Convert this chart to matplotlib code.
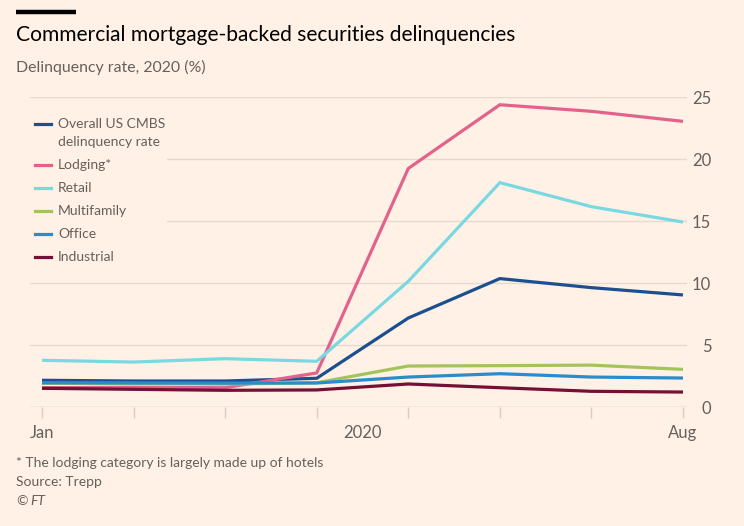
"""FT-style line chart: CMBS delinquency rates by property type, Jan-Aug 2020."""
import matplotlib

matplotlib.use("Agg")
import matplotlib.pyplot as plt
from matplotlib.lines import Line2D
from matplotlib.patches import Rectangle

W, H = 744, 526
BG = "#fff1e5"
GRID = "#e6d9ce"
TXT = "#66605c"

months = ["Jan", "Feb", "Mar", "Apr", "May", "Jun", "Jul", "Aug"]

overall = [2.18, 2.12, 2.12, 2.34, 7.20, 10.38, 9.65, 9.06]
lodging = [1.58, 1.62, 1.58, 2.77, 19.26, 24.40, 23.87, 23.06]
retail = [3.79, 3.65, 3.92, 3.71, 10.16, 18.12, 16.18, 14.94]
multifamily = [1.93, 1.92, 1.87, 1.98, 3.33, 3.36, 3.40, 3.06]
office = [1.98, 1.96, 1.95, 1.96, 2.44, 2.71, 2.44, 2.36]
industrial = [1.53, 1.45, 1.37, 1.40, 1.88, 1.58, 1.29, 1.23]

series_names = ["Overall US CMBS\ndelinquency rate", "Lodging*", "Retail",
                "Multifamily", "Office", "Industrial"]
series_values = [overall, lodging, retail, multifamily, office, industrial]
series_colors = ["#1c4f8f", "#e3628c", "#79d8e1", "#a3c45c", "#2a8ccc", "#760f35"]

plt.rcParams["font.family"] = ["Lato", "DejaVu Sans"]


def fx(px):
    return px / W


def fy(py):
    return 1 - py / H


fig = plt.figure(figsize=(W / 100, H / 100), dpi=100, facecolor=BG)
ax = fig.add_axes([fx(30), fy(407.3), fx(687) - fx(30), fy(97.3) - fy(407.3)])
ax.set_facecolor(BG)

x = list(range(len(months)))
# draw back-to-front so the low lines sit like the original
order = [5, 4, 3, 1, 2, 0]
for i in order:
    ax.plot(x, series_values[i], color=series_colors[i], lw=2.3,
            solid_capstyle="butt", solid_joinstyle="miter", zorder=3 + i * 0.1)

ax.set_xlim(-12 / 91.57, 7 + 4 / 91.57)
ax.set_ylim(0, 25)
ax.set_yticks([0, 5, 10, 15, 20, 25])
ax.yaxis.tick_right()
ax.tick_params(axis="y", length=0, pad=17.5, labelsize=12, labelcolor=TXT)
for lab in ax.get_yticklabels():
    lab.set_horizontalalignment("right")
ax.grid(axis="y", color=GRID, lw=1, zorder=1)

ax.set_xticks(x)
ax.set_xticklabels([months[0]] + [""] * 6 + [months[-1]])
ax.set_xticks([3.5], ["2020"], minor=True)
ax.tick_params(axis="x", which="major", length=8, width=1, color="#d9ccc1",
               labelsize=12, labelcolor=TXT, pad=5)
ax.tick_params(axis="x", which="minor", length=0, labelsize=12,
               labelcolor=TXT, pad=13)
for s in ax.spines.values():
    s.set_visible(False)
ax.axhline(0, color="#d9ccc1", lw=1, zorder=2)

# legend panel covering the gridlines
ax.add_patch(Rectangle((fx(30), fy(272)), fx(167) - fx(30), fy(104) - fy(272),
                       transform=fig.transFigure, facecolor=BG, edgecolor="none",
                       zorder=2))
leg_y = [124, 165, 188, 211, 234, 257]
for name, col, yy in zip(series_names, series_colors, leg_y):
    fig.add_artist(Line2D([fx(35), fx(51)], [fy(yy), fy(yy)], color=col, lw=2.3,
                          transform=fig.transFigure, zorder=5))
    if "\n" in name:
        fig.text(fx(58), fy(yy - 6.5), name, fontsize=10, color=TXT, va="top",
                 linespacing=1.7)
    else:
        fig.text(fx(58), fy(yy), name, fontsize=10, color=TXT, va="center")

# headline furniture
fig.add_artist(Line2D([fx(16), fx(76)], [fy(12), fy(12)], color="black", lw=3.2,
                      solid_capstyle="butt", transform=fig.transFigure))
fig.text(fx(16), fy(35), "Commercial mortgage-backed securities delinquencies",
         fontsize=15.1, color="#000000", va="center")
fig.text(fx(16), fy(67), "Delinquency rate, 2020 (%)", fontsize=11.4, color=TXT,
         va="center")

fig.text(fx(16), fy(463), "* The lodging category is largely made up of hotels",
         fontsize=10, color=TXT, va="center")
fig.text(fx(16), fy(482), "Source: Trepp", fontsize=10, color=TXT, va="center")
fig.text(fx(16), fy(501), "\u00a9", fontsize=10, color=TXT, va="center")
fig.text(fx(30), fy(501), "FT", fontsize=10, color=TXT, va="center", style="italic")

fig.savefig("out.png", dpi=100, facecolor=BG)
